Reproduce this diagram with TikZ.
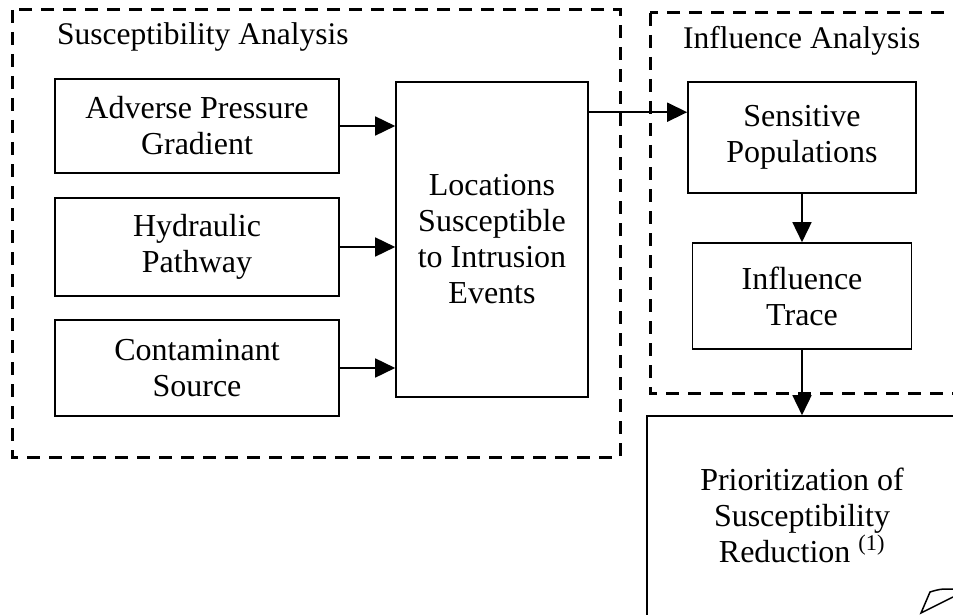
\documentclass[tikz,border=0pt]{standalone}
\usepackage{fontspec}
\setmainfont{Liberation Serif}
\usetikzlibrary{arrows.meta}

\begin{document}
\begin{tikzpicture}[x=1pt,y=-1pt,
  box/.style={draw, line width=1.6pt, inner sep=0pt, align=center,
    font=\fontsize{32}{36}\selectfont},
  txt/.style={inner sep=0pt, align=center, font=\fontsize{32}{36}\selectfont},
  title/.style={inner sep=0pt, font=\fontsize{31.5}{36}\selectfont},
  region/.style={draw, line width=3pt, dash pattern=on 13pt off 9pt, line join=miter},
  arr/.style={line width=1.6pt, -{Triangle[length=20pt,width=19pt]}}]

\path[use as bounding box, clip] (0,0) rectangle (953,615);

% dashed analysis regions
\draw[region] (12,10) rectangle (620,457);
\draw[region] (650,13) rectangle (1000,393);
\node[title, anchor=base west] (suscTitle) at (57,45) {Susceptibility Analysis};
\node[title, anchor=base west] (inflTitle) at (683,49) {Influence Analysis};

% susceptibility inputs
\node[box, minimum width=284pt, minimum height=94pt] (adv) at (197,126) {Adverse Pressure\\Gradient};
\node[box, minimum width=284pt, minimum height=98pt] (hyd) at (197,247) {Hydraulic\\Pathway};
\node[box, minimum width=284pt, minimum height=96pt] (con) at (197,368) {Contaminant\\Source};

\node[box, minimum width=192pt, minimum height=315pt] (loc) at (492,239.5)
  {Locations\\Susceptible\\to Intrusion\\Events};

% influence analysis
\node[box, minimum width=228pt, minimum height=111pt] (sens) at (802,137.5) {Sensitive\\Populations};
\node[box, minimum width=219pt, minimum height=106pt] (infl) at (802,296) {Influence\\Trace};

% prioritization (runs past the page edge)
\node[box, minimum width=310pt, minimum height=300pt] (prio) at (802,566) {};
\node[txt] (prioText) at (802,515) {Prioritization of\\Susceptibility\\Reduction \raisebox{3pt}{\textsuperscript{(1)}}};

% connectors
\draw[arr] (adv.east) -- (adv.east -| loc.west);
\draw[arr] (hyd.east) -- (hyd.east -| loc.west);
\draw[arr] (con.east) -- (con.east -| loc.west);
\coordinate (locOut) at ([yshift=-31pt]loc.north east);
\draw[arr] (locOut) -- (locOut -| sens.west);
\draw[arr] (sens.south) -- (infl.north);
\draw[arr] (infl.south) -- (prio.north);

% pencil tip in the corner
\draw[line width=1.5pt, line join=miter] (953,589) .. controls (940,589) .. (930,592) -- (921,613) -- (953,597);

\end{tikzpicture}
\end{document}
